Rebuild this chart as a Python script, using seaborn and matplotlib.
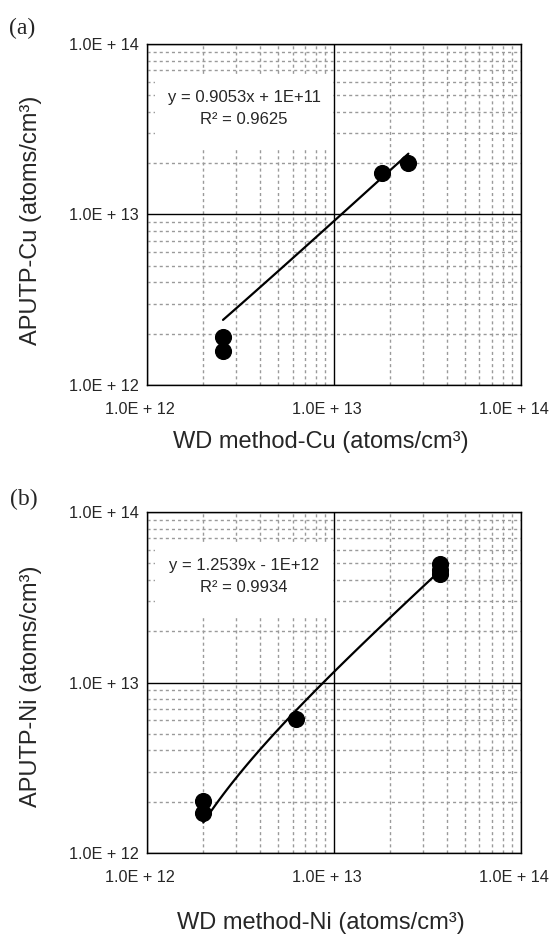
import numpy as np
import pandas as pd
import seaborn as sns
import matplotlib.pyplot as plt
from matplotlib.patches import Rectangle
from matplotlib.ticker import LogLocator, FixedLocator
from matplotlib.transforms import ScaledTranslation

# data (atoms/cm3)
cu_wd = [2.55e12, 2.55e12, 1.8e13, 2.5e13]
cu_aputp = [1.92e12, 1.59e12, 1.75e13, 2.0e13]
cu_slope, cu_icpt = 0.9053, 1e11
cu_eq = 'y = 0.9053x + 1E+11'
cu_r2 = 'R² = 0.9625'

ni_wd = [2.0e12, 2.0e12, 6.25e12, 3.7e13, 3.7e13, 3.7e13]
ni_aputp = [2.03e12, 1.71e12, 6.08e12, 4.95e13, 4.57e13, 4.33e13]
ni_slope, ni_icpt = 1.2539, -1e12
ni_eq = 'y = 1.2539x - 1E+12'
ni_r2 = 'R² = 0.9934'

tick_vals = [1e12, 1e13, 1e14]
tick_labels = ['1.0E + 12', '1.0E + 13', '1.0E + 14']

sns.set_style('white')
plt.rcParams['font.family'] = ['Liberation Sans', 'DejaVu Sans']

fig = plt.figure(figsize=(5.52, 9.34), dpi=100)
ax_a = fig.add_axes([0.2663, 0.5878, 0.6775, 0.3651])
ax_b = fig.add_axes([0.2663, 0.0867, 0.6775, 0.3651])


def draw_panel(ax, wd, aputp, slope, icpt, eq, r2, xlab, ylab, xlab_y, ylab_y):
    ax.set_xscale('log')
    ax.set_yscale('log')
    ax.set_xlim(1e12, 1e14)
    ax.set_ylim(1e12, 1e14)

    # grid: dotted minor lines, solid major lines
    for axis in (ax.xaxis, ax.yaxis):
        axis.set_major_locator(FixedLocator(tick_vals))
        axis.set_minor_locator(LogLocator(base=10, subs=np.arange(2, 10)))
    ax.grid(which='minor', color='#9a9a9a', lw=1.0, ls=(0, (2.2, 2.2)), zorder=0)
    ax.grid(which='major', color='black', lw=1.0, ls='-', zorder=0.5)
    ax.set_xticks(tick_vals)
    ax.set_xticklabels(tick_labels)
    ax.set_yticks(tick_vals)
    ax.set_yticklabels(tick_labels)
    ax.tick_params(which='both', length=0, labelsize=11.7)
    ax.tick_params(axis='x', pad=12)
    ax.tick_params(axis='y', pad=6)
    for lab in ax.get_xticklabels():
        lab.set_transform(lab.get_transform() + ScaledTranslation(-0.07, 0, fig.dpi_scale_trans))
    for s in ax.spines.values():
        s.set_color('black')
        s.set_linewidth(1.0)

    # white box behind the equation, like the spreadsheet label
    ax.add_patch(Rectangle((0.021, 0.689), 0.476, 0.223, transform=ax.transAxes,
                           facecolor='white', edgecolor='none', zorder=1))
    ax.text(0.26, 0.842, eq, transform=ax.transAxes, ha='center', va='center',
            fontsize=12, zorder=2)
    ax.text(0.26, 0.78, r2, transform=ax.transAxes, ha='center', va='center',
            fontsize=12, zorder=2)

    # trend line from the fitted equation over the data range
    xf = np.geomspace(min(wd), max(wd), 60)
    fit = pd.DataFrame({'x': xf, 'y': slope * xf + icpt})
    sns.lineplot(data=fit, x='x', y='y', ax=ax, color='black', lw=1.6, zorder=3)

    pts = pd.DataFrame({'wd': wd, 'aputp': aputp})
    sns.scatterplot(data=pts, x='wd', y='aputp', ax=ax, color='black',
                    edgecolor='black', s=130, zorder=4)

    ax.set_xlabel(xlab, fontsize=17, va='center')
    ax.set_ylabel(ylab, fontsize=17, va='center')
    ax.xaxis.set_label_coords(0.465, xlab_y)
    ax.yaxis.set_label_coords(-0.31, ylab_y)


draw_panel(ax_a, cu_wd, cu_aputp, cu_slope, cu_icpt, cu_eq, cu_r2,
           'WD method-Cu (atoms/cm³)', 'APUTP-Cu (atoms/cm³)', -0.167, 0.484)
draw_panel(ax_b, ni_wd, ni_aputp, ni_slope, ni_icpt, ni_eq, ni_r2,
           'WD method-Ni (atoms/cm³)', 'APUTP-Ni (atoms/cm³)', -0.205, 0.49)

fig.text(9 / 552, 1 - 28 / 934, '(a)', family='Liberation Serif', fontsize=17,
         ha='left', va='center')
fig.text(10 / 552, 1 - 499 / 934, '(b)', family='Liberation Serif', fontsize=17,
         ha='left', va='center')

fig.savefig('out.png', dpi=100)
